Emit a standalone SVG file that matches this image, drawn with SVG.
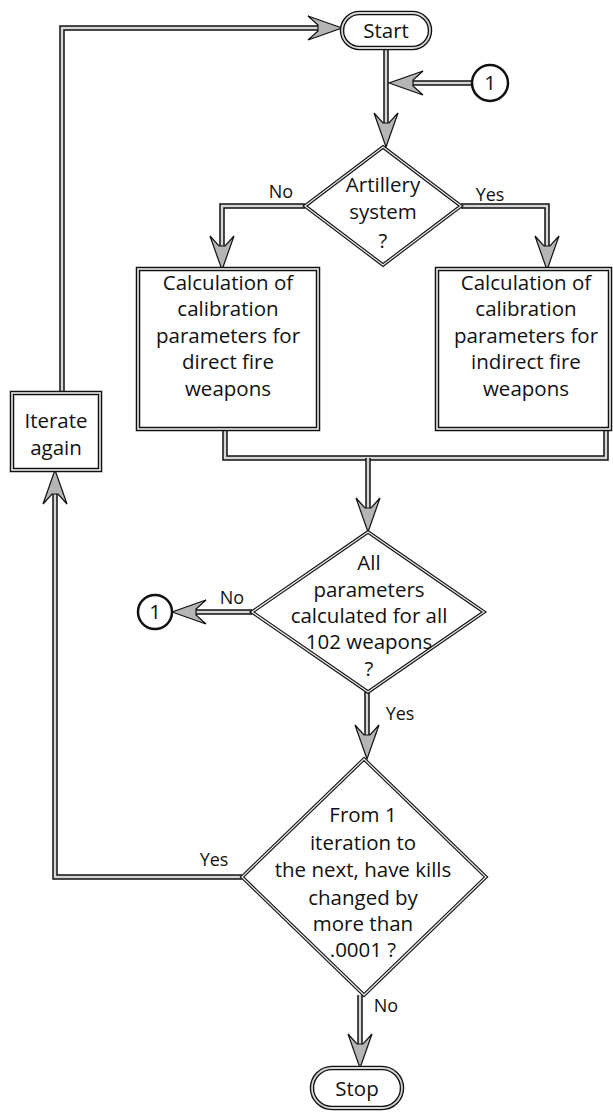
<svg xmlns="http://www.w3.org/2000/svg" width="613" height="1112" viewBox="0 0 613 1112">
<defs>
<style>
text{font-family:"Open Sans","Noto Sans","DejaVu Sans",sans-serif;font-size:20.5px;fill:#111;text-anchor:middle}
.lbl{font-size:18px}
.shape-o{fill:none;stroke:#111;stroke-width:4.5}
.shape-i{fill:none;stroke:#d4d4d4;stroke-width:1.8}
.fill{fill:#fff;stroke:none}
.dia-o{fill:#fff;stroke:#111;stroke-width:3.5}
.dia-i{fill:none;stroke:#e6e6e6;stroke-width:1.3}
.c-o{fill:none;stroke:#111;stroke-width:5.5;stroke-linejoin:miter}
.c-i{fill:none;stroke:#d6d6d6;stroke-width:2.5;stroke-linejoin:miter}
</style>
<marker id="ah" markerUnits="userSpaceOnUse" markerWidth="40" markerHeight="30" viewBox="0 -15 40 30" refX="10" refY="0" orient="auto" overflow="visible">
<polygon points="34,0 0,-12 10,-3 10,3 0,12" fill="#b5b5b5" stroke="#111" stroke-width="1.2" stroke-linejoin="miter"/>
</marker>
</defs>

<g id="connectors">
<path class="c-o" d="M386,48 V123"/><path class="c-i" d="M386,48 V123" marker-end="url(#ah)"/>
<path class="c-o" d="M472,83 H413"/><path class="c-i" d="M472,83 H413" marker-end="url(#ah)"/>
<path class="c-o" d="M305,206 H222 V246"/><path class="c-i" d="M305,206 H222 V246" marker-end="url(#ah)"/>
<path class="c-o" d="M461,206 H547 V246"/><path class="c-i" d="M461,206 H547 V246" marker-end="url(#ah)"/>
<path class="c-o" d="M225,429 V458 H606 V429"/><path class="c-i" d="M225,429 V458 H606 V429"/>
<path class="c-o" d="M368,458 V508"/><path class="c-i" d="M368,458 V508" marker-end="url(#ah)"/>
<path class="c-o" d="M252,612 H196"/><path class="c-i" d="M252,612 H196" marker-end="url(#ah)"/>
<path class="c-o" d="M367,692 V735"/><path class="c-i" d="M367,692 V735" marker-end="url(#ah)"/>
<path class="c-o" d="M242,877 H55 V494"/><path class="c-i" d="M242,877 H55 V494" marker-end="url(#ah)"/>
<path class="c-o" d="M62,393 V28 H318"/><path class="c-i" d="M62,393 V28 H318" marker-end="url(#ah)"/>
<path class="c-o" d="M360,995 V1044"/><path class="c-i" d="M360,995 V1044" marker-end="url(#ah)"/>
</g>

<g id="labels">
<text class="lbl" x="281" y="198">No</text>
<text class="lbl" x="490" y="201">Yes</text>
<text class="lbl" x="232" y="604">No</text>
<text class="lbl" x="400" y="720">Yes</text>
<text class="lbl" x="214" y="866">Yes</text>
<text class="lbl" x="386" y="1012">No</text>
</g>

<g id="start">
<rect x="342" y="13" width="88" height="35" rx="17.5" class="fill"/>
<rect x="342" y="13" width="88" height="35" rx="17.5" class="shape-o"/>
<rect x="342" y="13" width="88" height="35" rx="17.5" class="shape-i"/>
<text x="386" y="38">Start</text>
</g>

<g id="connector1_top">
<circle cx="490" cy="83" r="18" fill="#fff" stroke="#111" stroke-width="2.5"/>
<text x="490" y="90">1</text>
</g>

<g id="artillery">
<polygon points="383,147 461,206 383,265 305,206" class="dia-o"/>
<polygon points="383,147 461,206 383,265 305,206" class="dia-i"/>
<text x="383" y="192">Artillery</text>
<text x="383" y="219">system</text>
<text x="383" y="248">?</text>
</g>

<g id="direct">
<rect x="138" y="269" width="180" height="160" class="fill"/>
<rect x="138" y="269" width="180" height="160" class="shape-o"/>
<rect x="138" y="269" width="180" height="160" class="shape-i"/>
<text x="228" y="290">Calculation of</text>
<text x="228" y="316">calibration</text>
<text x="228" y="343">parameters for</text>
<text x="228" y="369">direct fire</text>
<text x="228" y="396">weapons</text>
</g>

<g id="indirect">
<rect x="437" y="269" width="173" height="160" class="fill"/>
<rect x="437" y="269" width="173" height="160" class="shape-o"/>
<rect x="437" y="269" width="173" height="160" class="shape-i"/>
<text x="526" y="290">Calculation of</text>
<text x="526" y="316">calibration</text>
<text x="526" y="343">parameters for</text>
<text x="526" y="369">indirect fire</text>
<text x="526" y="396">weapons</text>
</g>

<g id="all_params">
<polygon points="368,532 484,612 368,692 252,612" class="dia-o"/>
<polygon points="368,532 484,612 368,692 252,612" class="dia-i"/>
<text x="369" y="570">All</text>
<text x="369" y="597">parameters</text>
<text x="369" y="623">calculated for all</text>
<text x="369" y="649">102 weapons</text>
<text x="369" y="676">?</text>
</g>

<g id="connector1_left">
<circle cx="155" cy="612" r="17" fill="#fff" stroke="#111" stroke-width="2.5"/>
<text x="155" y="619">1</text>
</g>

<g id="kills">
<polygon points="364,759 486,877 364,995 242,877" class="dia-o"/>
<polygon points="364,759 486,877 364,995 242,877" class="dia-i"/>
<text x="363" y="822">From 1</text>
<text x="363" y="850">iteration to</text>
<text x="363" y="877">the next, have kills</text>
<text x="363" y="905">changed by</text>
<text x="363" y="931">more than</text>
<text x="363" y="957">.0001 ?</text>
</g>

<g id="iterate">
<rect x="12" y="393" width="88" height="77" class="fill"/>
<rect x="12" y="393" width="88" height="77" class="shape-o"/>
<rect x="12" y="393" width="88" height="77" class="shape-i"/>
<text x="56" y="428">Iterate</text>
<text x="56" y="455">again</text>
</g>

<g id="stop">
<rect x="312" y="1068" width="90" height="40" rx="20" class="fill"/>
<rect x="312" y="1068" width="90" height="40" rx="20" class="shape-o"/>
<rect x="312" y="1068" width="90" height="40" rx="20" class="shape-i"/>
<text x="357" y="1096">Stop</text>
</g>
</svg>
